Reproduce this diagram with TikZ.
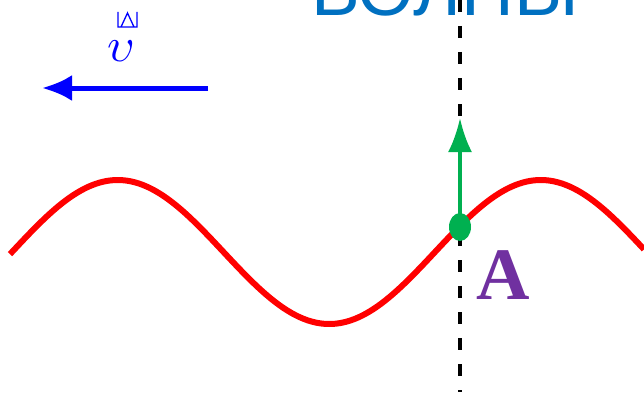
\documentclass[tikz,border=0pt]{standalone}
\usepackage{fontspec}
\setmainfont{Liberation Serif}
\newfontfamily\titlefont{Liberation Sans}
\usetikzlibrary{positioning,arrows.meta,calc,shapes.geometric}
\definecolor{titleblue}{HTML}{0070C0}
\definecolor{pointgreen}{HTML}{00B050}
\definecolor{labelpurple}{HTML}{7030A0}
\tikzset{
  heading/.style={color=titleblue, font=\titlefont\fontsize{73}{73}\selectfont,
                  inner sep=0pt, anchor=base},
  speed/.style={-{Latex[length=30pt,width=26pt]}, line width=5pt, draw=blue},
  wave/.style={draw=red, line width=6pt},
  axisline/.style={draw=black, line width=3.5pt, dash pattern=on 12pt off 14pt},
  uparrow/.style={-{Latex[length=34pt,width=24pt]}, line width=4pt, draw=pointgreen},
  dot/.style={ellipse, fill=pointgreen, minimum width=22pt, minimum height=28pt, inner sep=0pt},
  ptlabel/.style={color=labelpurple, font=\bfseries\fontsize{74}{74}\selectfont, inner sep=0pt},
}

\begin{document}
\begin{tikzpicture}[x=1pt, y=-1pt]
  \useasboundingbox (0,0) rectangle (644,404);
  \begin{scope}
  \clip (0,0) rectangle (644,404);

  % title, cut by the top edge
  \node[heading] (ttl) at (445,16) {ВОЛНЫ};

  % speed of the wave
  \coordinate (vs) at (208,88);
  \coordinate (ve) at (42,88);
  \draw[speed] (vs) -- (ve);
  \node[color=blue, inner sep=0pt] (v) at (121,51) {\scalebox{4.8}{$\upsilon$}};
  \draw[blue, line width=1.3pt] (118,12) -- (118,27) -- (137,27) -- (137,12)
       (121,27) -- (127.5,13) -- (134,27);

  % the wave
  \draw[wave] plot[domain=10:644, samples=120, smooth] (\x,{252-72*sin((\x-12)/423*360)});

  % vertical line through A
  \coordinate (top) at (460,0);
  \coordinate (bot) at (460,392);
  \draw[axisline] (top) -- (bot);

  % point A and its arrow
  \node[dot] (a) at (460,227) {};
  \coordinate (up) at (460,118);
  \draw[uparrow] (a.center) -- (up);
  \node[ptlabel] (albl) at (503,275) {A};
  \end{scope}
\end{tikzpicture}
\end{document}
